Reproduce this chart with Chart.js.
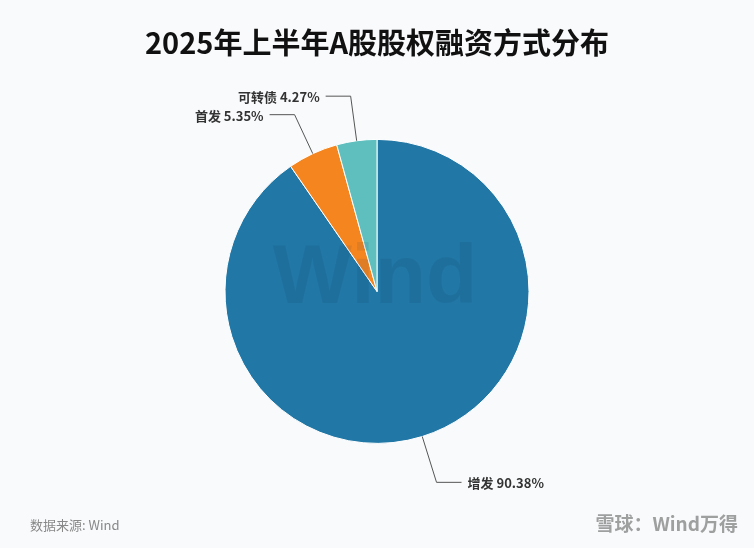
<!DOCTYPE html>
<html><head><meta charset="utf-8">
<script src="https://cdn.jsdelivr.net/npm/chart.js@4"></script>
<style>html,body{margin:0;padding:0;background:#f9fafc;}#w{position:relative;width:754px;height:548px;}</style>
</head><body><div id="w"><canvas id="c" width="754" height="548"></canvas></div>
<script>
const categories = ['增发','首发','可转债'];
const values = [90.38, 5.35, 4.27];
const colors = ['#2177a5','#f5861f','#5fbfbf'];

const deco = {
  id:'deco',
  afterDatasetsDraw(chart){
    const ctx=chart.ctx;
    const meta=chart.getDatasetMeta(0);
    const a0=meta.data[0];
    ctx.save();
    ctx.font='bold 84px "Liberation Sans", Arial';
    ctx.fillStyle='rgba(20,50,80,0.10)';
    ctx.textAlign='center';ctx.textBaseline='middle';
    ctx.fillText('Wind',a0.x-2,a0.y-12);
    const ext=[48,43,45];
    meta.data.forEach((arc,i)=>{
      const mid=(arc.startAngle+arc.endAngle)/2;
      const r=arc.outerRadius;
      const x0=arc.x+Math.cos(mid)*r, y0=arc.y+Math.sin(mid)*r;
      const x1=arc.x+Math.cos(mid)*(r+ext[i]), y1=arc.y+Math.sin(mid)*(r+ext[i]);
      const dir=Math.cos(mid)>=0?1:-1;
      const x2=x1+dir*25;
      ctx.strokeStyle='#555';ctx.lineWidth=1;
      ctx.beginPath();ctx.moveTo(x0,y0);ctx.lineTo(x1,y1);ctx.lineTo(x2,y1);ctx.stroke();
      ctx.fillStyle='#333';ctx.font='bold 13px "Noto Sans CJK SC", sans-serif';
      ctx.textAlign=dir>0?'left':'right';ctx.textBaseline='middle';
      ctx.fillText(categories[i]+' '+values[i].toFixed(2)+'%',x2+dir*6,y1+1);
    });
    ctx.font='13px "Noto Sans CJK SC", sans-serif';ctx.fillStyle='#888';
    ctx.textAlign='left';ctx.textBaseline='middle';
    ctx.fillText('数据来源: Wind',30,525);
    ctx.font='bold 19px "Noto Sans CJK SC", sans-serif';ctx.fillStyle='rgba(120,120,120,0.7)';
    ctx.textAlign='right';
    ctx.fillText('雪球：Wind万得',738,524);
    ctx.restore();
  }
};

new Chart(document.getElementById('c'),{
  type:'pie',
  data:{labels:categories,datasets:[{data:values,backgroundColor:colors,borderColor:'#ffffff',borderWidth:1}]},
  options:{
    responsive:false,animation:false,radius:152,
    layout:{padding:{top:22,bottom:80,left:0,right:0}},
    plugins:{
      legend:{display:false},tooltip:{enabled:false},
      title:{display:true,text:'2025年上半年A股股权融资方式分布',color:'#111',
        font:{size:29,weight:'bold',family:'"Noto Sans CJK SC", sans-serif'},padding:{top:4,bottom:54}}
    }
  },
  plugins:[deco]
});
</script></body></html>
